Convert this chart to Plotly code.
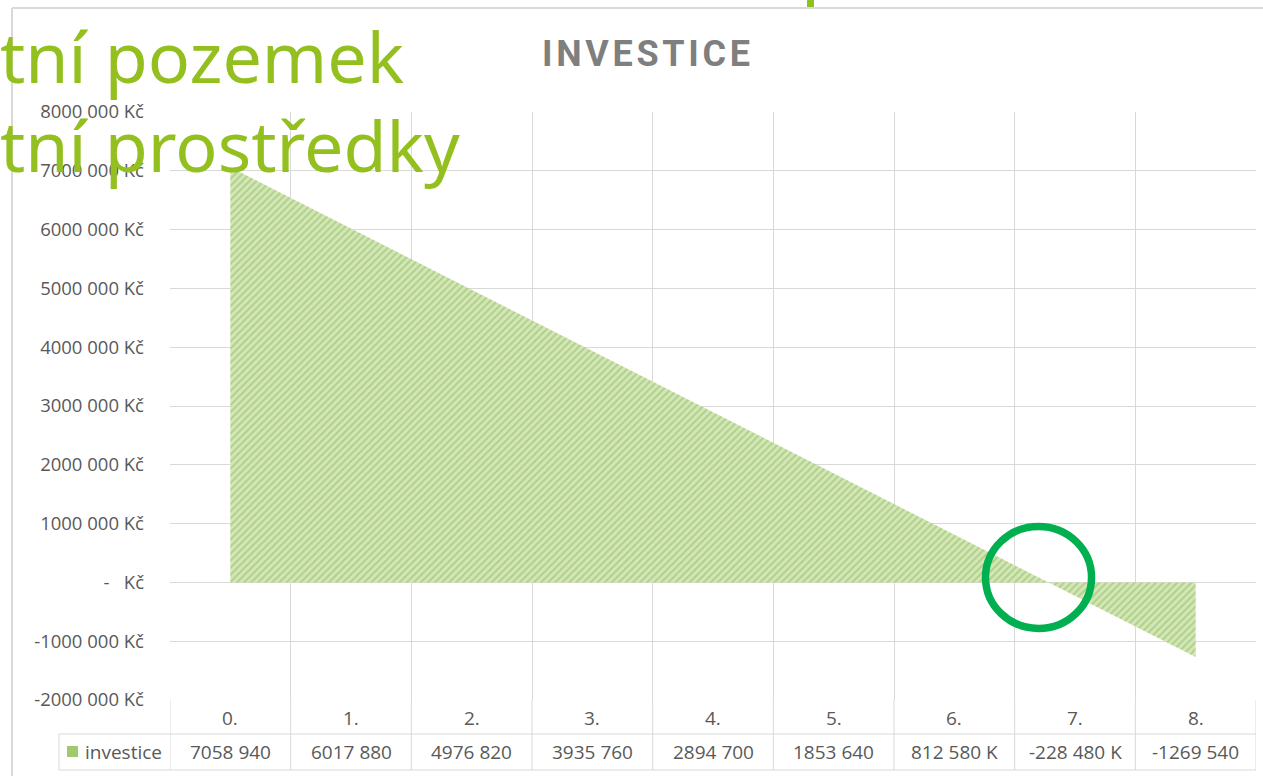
import plotly.graph_objects as go

# ---- data ----
categories = ["0.", "1.", "2.", "3.", "4.", "5.", "6.", "7.", "8."]
investice = [7058940, 6017880, 4976820, 3935760, 2894700, 1853640, 812580, -228480, -1269540]
value_labels = ["7058 940", "6017 880", "4976 820", "3935 760", "2894 700",
                "1853 640", "812 580 K", "-228 480 K", "-1269 540"]
y_tickvals = [8000000, 7000000, 6000000, 5000000, 4000000, 3000000, 2000000, 1000000, 0, -1000000, -2000000]
y_ticktext = ["8000 000 Kč", "7000 000 Kč", "6000 000 Kč", "5000 000 Kč", "4000 000 Kč",
              "3000 000 Kč", "2000 000 Kč", "1000 000 Kč", "-\u00a0\u00a0\u00a0Kč",
              "-1000 000 Kč", "-2000 000 Kč"]
series_name = "investice"
chart_title = "INVESTICE"
overlay_lines = ["tní pozemek", "tní prostředky"]

W, H = 1263, 776
L, R, T, B = 170, 7, 112, 76
PW, PH = W - L - R, H - T - B

def px_x(p):  # pixel -> paper x
    return (p - L) / PW

def px_y(p):  # pixel -> paper y
    return (H - B - p) / PH

xs = list(range(len(categories)))
GRID = "#d9d9d9"
TXT = "#595959"
FONT = "Open Sans"

fig = go.Figure()
fig.add_trace(go.Scatter(
    x=xs, y=investice, mode="lines", fill="tozeroy",
    line=dict(width=0, color="rgba(0,0,0,0)"),
    fillcolor="#cfe3b3",
    fillpattern=dict(shape="/", fgcolor="#8cb955", bgcolor="#d3e6b8", size=5, solidity=0.4),
    name=series_name, showlegend=False, hoverinfo="skip",
))

boundaries = [i - 0.5 for i in range(len(categories) + 1)]

fig.update_layout(
    width=W, height=H,
    margin=dict(l=L, r=R, t=T, b=B),
    paper_bgcolor="white", plot_bgcolor="white",
    showlegend=False,
    font=dict(family=FONT, color=TXT, size=18),
    xaxis=dict(range=[-0.5, len(categories) - 0.5], tickvals=boundaries, showticklabels=False,
               showgrid=True, gridcolor=GRID, gridwidth=1, zeroline=False, ticks="",
               showline=False),
    yaxis=dict(range=[-2000000, 8000000], tickvals=y_tickvals, ticktext=y_ticktext,
               showgrid=True, gridcolor=GRID, gridwidth=1, zeroline=True, zerolinecolor=GRID,
               zerolinewidth=1, ticks="", ticklabelstandoff=25,
               tickfont=dict(family=FONT, size=18.5, color=TXT)),
)

shapes = []
# table lines
y_row1 = px_y(734)
y_row2 = px_y(770)
for b in boundaries:
    shapes.append(dict(type="line", xref="x", yref="paper", x0=b, x1=b, y0=y_row2, y1=0,
                       line=dict(color=GRID, width=1)))
shapes.append(dict(type="line", xref="paper", yref="paper", x0=px_x(59), x1=1, y0=y_row1, y1=y_row1,
                   line=dict(color=GRID, width=1)))
shapes.append(dict(type="line", xref="paper", yref="paper", x0=px_x(59), x1=1, y0=y_row2, y1=y_row2,
                   line=dict(color=GRID, width=1)))
shapes.append(dict(type="line", xref="paper", yref="paper", x0=px_x(59), x1=px_x(59), y0=y_row2, y1=y_row1,
                   line=dict(color=GRID, width=1)))
# legend key
shapes.append(dict(type="rect", xref="paper", yref="paper", x0=px_x(67), x1=px_x(78),
                   y0=px_y(757), y1=px_y(746), line=dict(width=0), fillcolor="#a3c970"))
# chart outer border
shapes.append(dict(type="line", xref="paper", yref="paper", x0=px_x(12), x1=px_x(W + 5),
                   y0=px_y(8), y1=px_y(8), line=dict(color="#d9d9d9", width=2)))
shapes.append(dict(type="line", xref="paper", yref="paper", x0=px_x(12), x1=px_x(12),
                   y0=px_y(8), y1=px_y(H + 5), line=dict(color="#d9d9d9", width=2)))
# small green slide mark at top
shapes.append(dict(type="rect", xref="paper", yref="paper", x0=px_x(807), x1=px_x(814),
                   y0=px_y(7), y1=px_y(-2), line=dict(width=0), fillcolor="#8dc21f"))
# circle around the break-even point (anchored at zero crossing)
i_cross = next(i for i in range(1, len(investice)) if investice[i] < 0)
x_cross = (i_cross - 1) + investice[i_cross - 1] / (investice[i_cross - 1] - investice[i_cross])
shapes.append(dict(type="circle", xref="x", yref="y", xsizemode="pixel", ysizemode="pixel",
                   xanchor=x_cross, yanchor=0, x0=-63, x1=43, y0=-46, y1=56,
                   line=dict(color="#00b050", width=7.5)))
fig.update_layout(shapes=shapes)

ann = []
for i, c in enumerate(categories):
    ann.append(dict(x=i, y=px_y(718), xref="x", yref="paper", text=c, showarrow=False,
                    font=dict(family=FONT, size=19, color=TXT), xanchor="center", yanchor="middle"))
    ann.append(dict(x=i, y=px_y(752), xref="x", yref="paper", text=value_labels[i], showarrow=False,
                    font=dict(family=FONT, size=19, color=TXT), xanchor="center", yanchor="middle"))
ann.append(dict(x=px_x(83), y=px_y(752), xref="paper", yref="paper", text=series_name, showarrow=False,
                font=dict(family=FONT, size=19, color=TXT), xanchor="left", yanchor="middle"))
ann.append(dict(x=px_x(646), y=px_y(54), xref="paper", yref="paper",
                text="\u200a".join(chart_title), showarrow=False,
                font=dict(family="Roboto", size=36, color="#7f7f7f", weight="bold"),
                xanchor="center", yanchor="middle"))
ann.append(dict(x=px_x(-2), y=px_y(56), xref="paper", yref="paper", text=overlay_lines[0],
                showarrow=False, font=dict(family="Noto Sans", size=70, color="#93c01f"),
                xanchor="left", yanchor="middle"))
ann.append(dict(x=px_x(-2), y=px_y(145), xref="paper", yref="paper", text=overlay_lines[1],
                showarrow=False, font=dict(family="Noto Sans", size=70, color="#93c01f"),
                xanchor="left", yanchor="middle"))
fig.update_layout(annotations=ann)

fig.write_html("out.html")
